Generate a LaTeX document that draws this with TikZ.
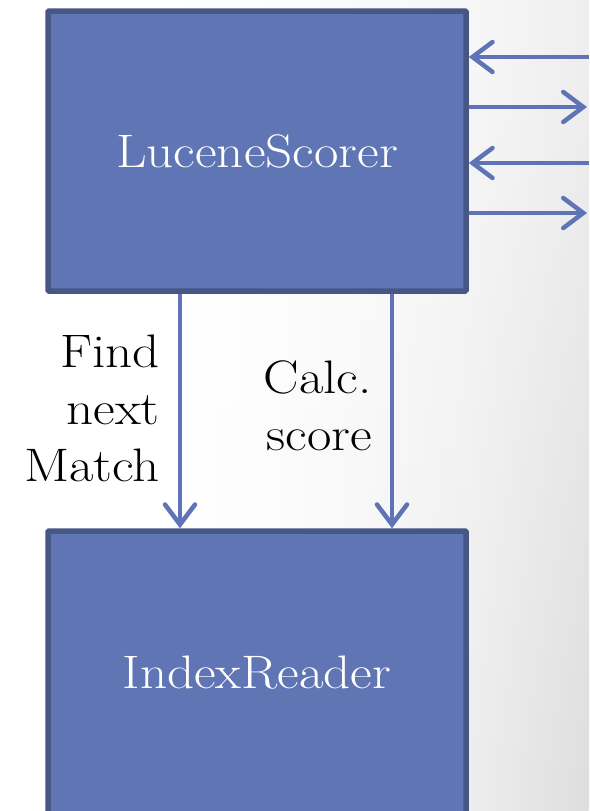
\documentclass[tikz,border=0pt]{standalone}
\usetikzlibrary{arrows.meta,fadings}
\definecolor{boxfill}{HTML}{6075B4}
\definecolor{boxedge}{HTML}{465685}
\definecolor{flow}{HTML}{5F74B6}
% slide background: white, turning grey towards the right edge,
% a little darker towards the bottom
\pgfdeclarehorizontalshading{bgtop}{100bp}{
  color(0bp)=(white); color(46bp)=(white); color(65bp)=(black!3);
  color(75bp)=(black!6); color(100bp)=(black!6)}
\pgfdeclarehorizontalshading{bgbottom}{100bp}{
  color(0bp)=(white); color(40bp)=(white); color(55bp)=(black!3);
  color(65bp)=(black!7); color(75bp)=(black!13); color(100bp)=(black!13)}
% widen the lettering a little
\newcommand{\wide}[1]{\scalebox{1.13}[1]{#1}}
\begin{document}
\begin{tikzpicture}[x=1pt,y=-1pt,
  block/.style={draw=boxedge, fill=boxfill, line width=5.5pt, rounded corners=1pt,
    minimum width=418pt, text=white, font=\fontsize{47}{57}\selectfont, inner sep=0pt},
  flowline/.style={draw=flow, line width=4.5pt,
    -{Straight Barb[length=20pt, width=30pt, line cap=round]}},
  caption/.style={font=\fontsize{47}{57}\selectfont, align=right, anchor=east, inner sep=0pt}]
  % page frame
  \useasboundingbox (0,0) rectangle (589,811);
  \clip (0,0) rectangle (589,811);
  \shade[shading=bgtop] (0,0) rectangle (589,811);
  \shade[shading=bgbottom, path fading=north] (0,0) rectangle (589,811);
  % the two components
  \node[block, minimum height=280pt] (ls) at (257,151) {\wide{LuceneScorer}};
  \node[block, minimum height=284pt] (ir) at (257,673) {\wide{IndexReader}};
  % calls from the scorer down to the index reader
  \coordinate (c1) at (180,0);
  \coordinate (c2) at (392,0);
  \draw[flowline] (ls.south -| c1) -- (ir.north -| c1);
  \draw[flowline] (ls.south -| c2) -- (ir.north -| c2);
  \node[caption] (find) at (160,408) {\wide{Find}\\\wide{next}\\\wide{Match}};
  \node[caption] (calc) at (372,406) {\wide{Calc.}\\\wide{score}};
  % exchanges with the outside on the right
  \coordinate (in1) at (589,57);
  \coordinate (out1) at (587,107);
  \coordinate (in2) at (589,163);
  \coordinate (out2) at (587,213);
  \draw[flowline] (in1) -- (in1 -| ls.east);
  \draw[flowline] (out1 -| ls.east) -- (out1);
  \draw[flowline] (in2) -- (in2 -| ls.east);
  \draw[flowline] (out2 -| ls.east) -- (out2);
\end{tikzpicture}
\end{document}
